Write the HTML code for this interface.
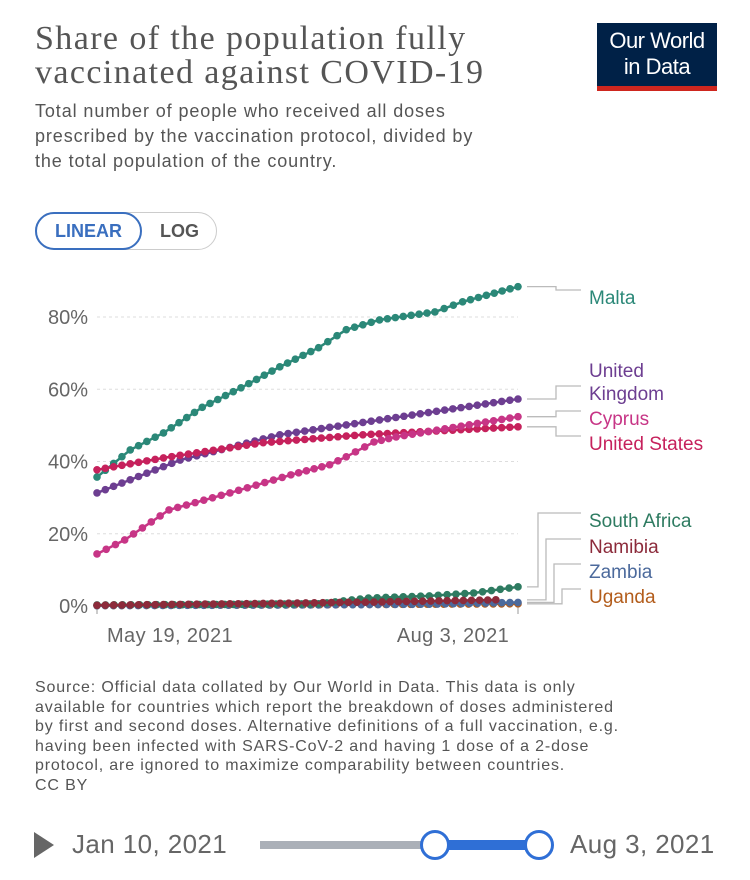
<!DOCTYPE html>
<html><head><meta charset="utf-8"><style>
body{margin:0;width:750px;height:880px;background:#fff;overflow:hidden;font-family:"Liberation Sans",sans-serif;position:relative}
.t{position:absolute;white-space:nowrap}
</style></head><body>
<div class="t" style="left:35px;top:22px;font-family:'Liberation Serif',serif;font-size:34px;line-height:34px;color:#555;letter-spacing:1.4px">Share of the population fully<br>vaccinated against COVID-19</div>
<div style="position:absolute;left:597px;top:23px;width:120px;height:68px;background:#002147;color:#fff;text-align:center;font-size:22px;line-height:26px;padding-top:5px;box-sizing:border-box;border-bottom:5px solid #ce261e;letter-spacing:-0.5px">Our World<br>in Data</div>
<div class="t" style="left:35px;top:99px;font-size:18px;line-height:25px;color:#555;letter-spacing:0.9px">Total number of people who received all doses<br>prescribed by the vaccination protocol, divided by<br>the total population of the country.</div>
<div style="position:absolute;left:35px;top:212px;width:182px;height:38px;border:1px solid #ccc;border-radius:20px;box-sizing:border-box"></div>
<div class="t" style="left:35px;top:212px;width:107px;height:38px;border:2px solid #3a6fbf;border-radius:20px;box-sizing:border-box;color:#3a6fbf;font-size:18px;font-weight:bold;text-align:center;line-height:34px">LINEAR</div>
<div class="t" style="left:142px;top:212px;width:75px;height:38px;color:#555;font-size:18px;font-weight:bold;text-align:center;line-height:38px">LOG</div>
<svg id="chart" width="750" height="880" style="position:absolute;left:0;top:0"></svg>
<div class="t" style="left:35px;top:678px;font-size:16px;line-height:19.5px;color:#555;letter-spacing:0.85px">Source: Official data collated by Our World in Data. This data is only<br>available for countries which report the breakdown of doses administered<br>by first and second doses. Alternative definitions of a full vaccination, e.g.<br>having been infected with SARS-CoV-2 and having 1 dose of a 2-dose<br>protocol, are ignored to maximize comparability between countries.<br>CC BY</div>
<div style="position:absolute;left:34px;top:832px;width:0;height:0;border-left:20px solid #666;border-top:13px solid transparent;border-bottom:13px solid transparent"></div>
<div class="t" style="left:72px;top:829px;font-size:26px;color:#666;letter-spacing:0.4px">Jan 10, 2021</div>
<div style="position:absolute;left:260px;top:841px;width:180px;height:8px;background:#abb0b8"></div>
<div style="position:absolute;left:433px;top:840px;width:105px;height:10px;background:#2f6fd6"></div>
<div style="position:absolute;left:420px;top:830px;width:24px;height:24px;border:3px solid #2f6fd6;border-radius:50%;background:#fff"></div>
<div style="position:absolute;left:524px;top:830px;width:24px;height:24px;border:3px solid #2f6fd6;border-radius:50%;background:#fff"></div>
<div class="t" style="left:570px;top:829px;font-size:26px;color:#666;letter-spacing:0.4px">Aug 3, 2021</div>
<script>
const yTicks=[0,20,40,60,80];
const xTickLabels=["May 19, 2021","Aug 3, 2021"];
const xTickDays=[0,76];
const seriesNames=["Malta","United Kingdom","United States","Cyprus","South Africa","Namibia","Zambia","Uganda"];
const maltaDays=[0,6,12,19,26,33,40,45,51,61,66,76];
const maltaVals=[35.7,43.2,47.9,55,60.4,66.2,71.5,76.5,79.2,81.4,84.2,88.4];
const ukDays=[0,15,33,51,76];
const ukVals=[31.3,40.4,47.4,51.5,57.3];
const usDays=[0,12,30,48,76];
const usVals=[37.7,41,45.2,47.4,49.6];
const cyDays=[0,5,13,24,35,42,45,50,54,76];
const cyVals=[14.4,18.3,26.6,31.3,36.3,39.1,41.3,45.4,46.8,52.4];
const saDays=[0,20,40,49,60,68,76];
const saVals=[0.3,0.4,0.6,2.2,2.8,3.6,5.3];
const naDays=[0,30,50,72];
const naVals=[0.2,0.7,1.1,1.7];
const zmDays=[0,40,60,76];
const zmVals=[0.1,0.3,0.5,1.0];
const ugDays=[0,76];
const ugVals=[0.1,0.6];
const colors=["#2b8878","#6d3e91","#c6215c","#c73586","#2e7b61","#8c2b3b","#4c6a9c","#b35d1c"];
const X=d=>97+d*(421/76), Y=v=>606-v*(289/80);
const svg=document.getElementById('chart'),NS="http://www.w3.org/2000/svg";
function mk(t,a){const e=document.createElementNS(NS,t);for(const k in a)e.setAttribute(k,a[k]);svg.appendChild(e);return e;}
yTicks.forEach(v=>{
 if(v>0){const g=mk('line',{x1:97,x2:518,y1:Y(v),y2:Y(v),stroke:'#ddd','stroke-dasharray':'3,3'});
 
 }
 const t=mk('text',{x:88,y:Y(v)+7,'text-anchor':'end','font-size':'20','fill':'#666','font-family':'Liberation Sans'});t.textContent=v+'%';
 
 
});
xTickDays.forEach((d,i)=>{
 const l=mk('line',{x1:X(d),x2:X(d),y1:606,y2:614,stroke:'#999'});
 
 
 const t=mk('text',{x:X(d)+(i==0?73:-65),y:642,'text-anchor':'middle','font-size':'20','fill':'#666','font-family':'Liberation Sans','letter-spacing':'0.4'});t.textContent=xTickLabels[i];
 
 
});
const all=[[maltaDays,maltaVals],[ukDays,ukVals],[usDays,usVals],[cyDays,cyVals],[saDays,saVals],[naDays,naVals],[zmDays,zmVals],[ugDays,ugVals]];
const order=[7,6,4,5,0,1,2,3];
order.forEach(i=>{
 const [ds,vs]=all[i];
 const p=mk('polyline',{points:ds.map((d,j)=>X(d)+','+Y(vs[j])).join(' '),fill:'none',stroke:colors[i],'stroke-width':2.5});
 
 
 for(let j=0;j<ds.length-1;j++){const n=Math.max(1,Math.round((ds[j+1]-ds[j])/1.5));for(let s=0;s<n;s++){const f=s/n;
  const c=mk('circle',{cx:X(ds[j]+(ds[j+1]-ds[j])*f),cy:Y(vs[j]+(vs[j+1]-vs[j])*f),r:3.8,fill:colors[i]});
  
  }}
 const c=mk('circle',{cx:X(ds[ds.length-1]),cy:Y(vs[vs.length-1]),r:3.8,fill:colors[i]});
 
 
});
const labelY=[297,370,418,443,520,546,571,596];
const labelLines=[["Malta"],["United","Kingdom"],["Cyprus"],["United States"],["South Africa"],["Namibia"],["Zambia"],["Uganda"]];
const labelSeries=[0,1,3,2,4,5,6,7];
labelSeries.forEach((si,k)=>{
 const [ds,vs]=all[si];const ey=Y(vs[vs.length-1]);
 const ly=labelY[k]+(labelLines[k].length>1?23:0)-7;
 const midx=k<4?556:[538,546,554,562][k-4];
 const l=mk('polyline',{points:`527,${ey} ${midx},${ey} ${midx},${ly} 581,${ly}`,fill:'none',stroke:'#bbb','stroke-width':1.3});
 
 
 labelLines[k].forEach((s,j)=>{
  const t=mk('text',{x:589,y:labelY[k]+7+j*23,'font-size':'19','fill':colors[si],'font-family':'Liberation Sans'});t.textContent=s;
  
  
 });
});
</script>
</body></html>
